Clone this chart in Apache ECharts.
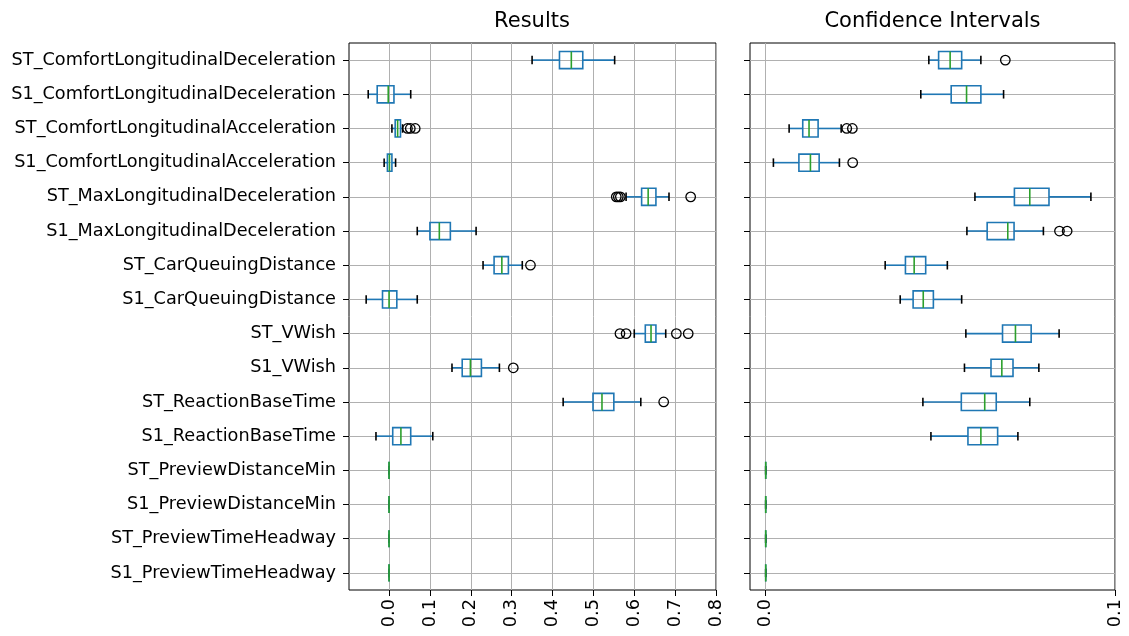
<!DOCTYPE html>
<html>
<head>
<meta charset="utf-8">
<script src="https://cdn.jsdelivr.net/npm/echarts@6/dist/echarts.min.js"></script>
<style>html,body{margin:0;padding:0;background:#fff;}#chart{width:1129px;height:636px;}</style>
</head>
<body>
<div id="chart"></div>
<script>
const categories = ['ST_ComfortLongitudinalDeceleration','S1_ComfortLongitudinalDeceleration','ST_ComfortLongitudinalAcceleration','S1_ComfortLongitudinalAcceleration','ST_MaxLongitudinalDeceleration','S1_MaxLongitudinalDeceleration','ST_CarQueuingDistance','S1_CarQueuingDistance','ST_VWish','S1_VWish','ST_ReactionBaseTime','S1_ReactionBaseTime','ST_PreviewDistanceMin','S1_PreviewDistanceMin','ST_PreviewTimeHeadway','S1_PreviewTimeHeadway'];

// Results panel
const resLow  = [0.350,-0.051,0.007,-0.012,0.580,0.069,0.230,-0.056,0.600,0.154,0.426,-0.032,0,0,0,0];
const resQ1   = [0.417,-0.029,0.015,-0.004,0.618,0.100,0.257,-0.016,0.627,0.179,0.499,0.009,0,0,0,0];
const resMed  = [0.446,-0.002,0.021,0.001,0.634,0.123,0.276,0.000,0.641,0.199,0.521,0.029,0,0,0,0];
const resQ3   = [0.474,0.012,0.028,0.007,0.653,0.150,0.292,0.019,0.653,0.226,0.550,0.053,0,0,0,0];
const resHigh = [0.552,0.053,0.033,0.016,0.685,0.213,0.326,0.069,0.677,0.270,0.616,0.107,0,0,0,0];
const resOut  = [[],[],[0.045,0.052,0.064],[],[0.556,0.561,0.566,0.738],[],[0.346],[],[0.565,0.580,0.703,0.732],[0.304],[0.672],[],[],[],[],[]];
const resTicks = [0.0,0.1,0.2,0.3,0.4,0.5,0.6,0.7,0.8];

// Confidence Intervals panel
const ciLow  = [0.0467,0.0444,0.0067,0.0022,0.0599,0.0576,0.0342,0.0385,0.0573,0.0569,0.0450,0.0473,0,0,0,0];
const ciQ1   = [0.0495,0.0531,0.0106,0.0095,0.0712,0.0634,0.0400,0.0422,0.0678,0.0645,0.0560,0.0579,0,0,0,0];
const ciMed  = [0.0528,0.0575,0.0124,0.0128,0.0756,0.0693,0.0425,0.0451,0.0715,0.0676,0.0627,0.0616,0,0,0,0];
const ciQ3   = [0.0561,0.0616,0.0150,0.0153,0.0811,0.0711,0.0458,0.0480,0.0760,0.0708,0.0660,0.0664,0,0,0,0];
const ciHigh = [0.0616,0.0681,0.0216,0.0211,0.0931,0.0795,0.0520,0.0561,0.0840,0.0782,0.0756,0.0722,0,0,0,0];
const ciOut  = [[0.0686],[],[0.0232,0.0248],[0.0249],[],[0.0841,0.0863],[],[],[],[],[],[],[],[],[],[]];
const ciTicks = [0.0,0.1];

const FONT = 'DejaVu Sans';
const BLUE = '#1f77b4', GREEN = '#2ca02c';
const catIdx = categories.map((_, i) => i);

function boxData(low, q1, med, q3, high) {
  return categories.map((_, i) => [i, low[i], q1[i], med[i], q3[i], high[i]]);
}
function outData(out) {
  const d = [];
  out.forEach((arr, i) => arr.forEach(v => d.push([v, i])));
  return d;
}
function renderBox(params, api) {
  const y = api.value(0);
  const pL = api.coord([api.value(1), y]);
  const p1 = api.coord([api.value(2), y]);
  const pm = api.coord([api.value(3), y]);
  const p3 = api.coord([api.value(4), y]);
  const pH = api.coord([api.value(5), y]);
  const band = api.size([0, 1])[1];
  const bh = band * 0.5, ch = band * 0.25;
  const cy = pm[1];
  const lw = 1.6;
  return {
    type: 'group',
    children: [
      {type:'line', shape:{x1:pL[0], y1:cy, x2:p1[0], y2:cy}, style:{stroke:BLUE, lineWidth:lw}},
      {type:'line', shape:{x1:p3[0], y1:cy, x2:pH[0], y2:cy}, style:{stroke:BLUE, lineWidth:lw}},
      {type:'line', shape:{x1:pL[0], y1:cy-ch/2, x2:pL[0], y2:cy+ch/2}, style:{stroke:'#000', lineWidth:lw}},
      {type:'line', shape:{x1:pH[0], y1:cy-ch/2, x2:pH[0], y2:cy+ch/2}, style:{stroke:'#000', lineWidth:lw}},
      {type:'rect', shape:{x:p1[0], y:cy-bh/2, width:p3[0]-p1[0], height:bh}, style:{fill:null, stroke:BLUE, lineWidth:lw}},
      {type:'line', shape:{x1:pm[0], y1:cy-bh/2, x2:pm[0], y2:cy+bh/2}, style:{stroke:GREEN, lineWidth:lw}}
    ]
  };
}

const gridCommon = {top:43, bottom:46, show:true, borderColor:'#000', borderWidth:1, backgroundColor:'transparent', containLabel:false, outerBoundsMode:'none'};
function xAxisFor(gi, min, max, ticks) {
  return {
    gridIndex: gi, type:'value', min:min, max:max, position:'bottom',
    axisLine:{show:false, onZero:false},
    axisTick:{show:true, customValues:ticks, length:6, lineStyle:{color:'#000', width:1}},
    axisLabel:{show:true, customValues:ticks, rotate:90, margin:9, color:'#000', fontFamily:FONT, fontSize:17.7, formatter:v => Number(v).toFixed(1)},
    splitLine:{show:true, lineStyle:{color:'#b0b0b0', width:1}}
  };
}
function yAxisFor(gi, showLabel) {
  return {
    gridIndex: gi, type:'value', min:-0.5, max:categories.length-0.5, inverse:true, position:'left',
    axisLine:{show:false, onZero:false},
    axisTick:{show:true, customValues:catIdx, length:6, lineStyle:{color:'#000', width:1}},
    axisLabel:{show:showLabel, customValues:catIdx, margin:13, color:'#000', fontFamily:FONT, fontSize:17.7, formatter:v => categories[Math.round(v)]},
    splitLine:{show:true, lineStyle:{color:'#b0b0b0', width:1}}
  };
}

const chart = echarts.init(document.getElementById('chart'), null, {renderer:'canvas'});
chart.setOption({
  animation:false,
  backgroundColor:'#fff',
  graphic:[
    {type:'text', x:532, y:22, style:{text:'Results', fontFamily:FONT, fontSize:21, fill:'#000', textAlign:'center', textVerticalAlign:'middle'}},
    {type:'text', x:932.5, y:22, style:{text:'Confidence Intervals', fontFamily:FONT, fontSize:21, fill:'#000', textAlign:'center', textVerticalAlign:'middle'}}
  ],
  grid:[
    Object.assign({left:349, right:413}, gridCommon),
    Object.assign({left:750, right:14}, gridCommon)
  ],
  xAxis:[ xAxisFor(0, -0.098, 0.8, resTicks), xAxisFor(1, -0.0045, 0.1, ciTicks) ],
  yAxis:[ yAxisFor(0, true), yAxisFor(1, false) ],
  series:[
    {type:'custom', xAxisIndex:0, yAxisIndex:0, renderItem:renderBox, data:boxData(resLow,resQ1,resMed,resQ3,resHigh), encode:{x:[1,2,3,4,5], y:0}, silent:true, clip:false, z:3},
    {type:'custom', xAxisIndex:1, yAxisIndex:1, renderItem:renderBox, data:boxData(ciLow,ciQ1,ciMed,ciQ3,ciHigh), encode:{x:[1,2,3,4,5], y:0}, silent:true, clip:false, z:3},
    {type:'scatter', xAxisIndex:0, yAxisIndex:0, data:outData(resOut), symbol:'circle', symbolSize:9.5, itemStyle:{color:'rgba(0,0,0,0)', borderColor:'#000', borderWidth:1.3, opacity:1}, silent:true, z:4},
    {type:'scatter', xAxisIndex:1, yAxisIndex:1, data:outData(ciOut), symbol:'circle', symbolSize:9.5, itemStyle:{color:'rgba(0,0,0,0)', borderColor:'#000', borderWidth:1.3, opacity:1}, silent:true, z:4}
  ]
});
</script>
</body>
</html>
